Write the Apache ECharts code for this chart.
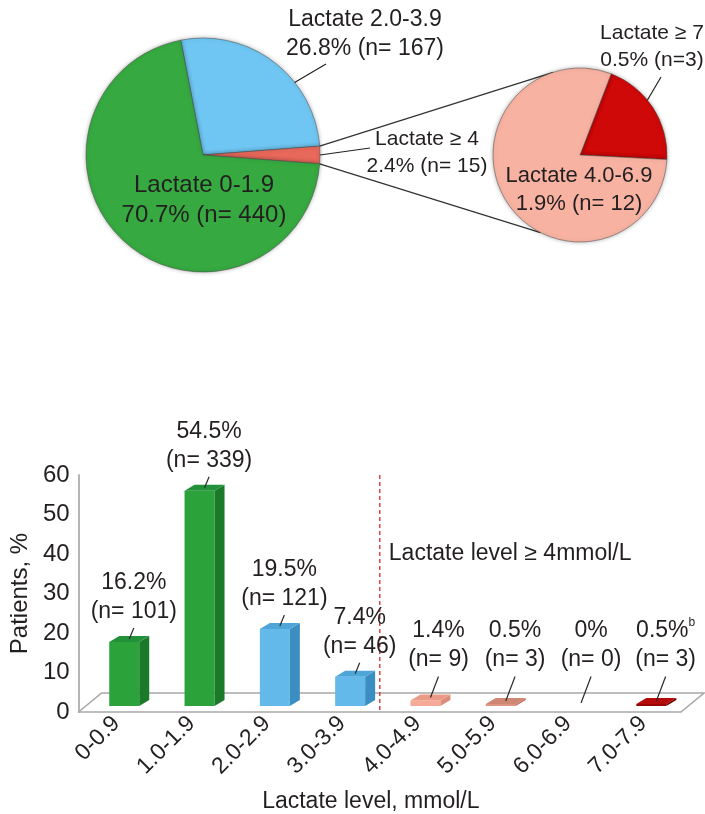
<!DOCTYPE html>
<html>
<head>
<meta charset="utf-8">
<script src="https://cdn.jsdelivr.net/npm/echarts@6/dist/echarts.min.js"></script>
<style>
  html, body { margin: 0; padding: 0; background: #fff; }
  #chart { width: 705px; height: 814px; }
</style>
</head>
<body>
<div id="chart"></div>
<script>
// main pie: lactate groups
const pieNames = ['Lactate 2.0-3.9', 'Lactate ≥ 4', 'Lactate 0-1.9'];
const pieCounts = [167, 15, 440];
const piePct = ['26.8%', '2.4%', '70.7%'];
const pieColors = ['#6fc6f2', '#e8685b', '#36a940'];

// secondary pie: split of lactate >= 4
const subNames = ['Lactate ≥ 7', 'Lactate 4.0-6.9'];
const subCounts = [3, 12];
const subPct = ['0.5%', '1.9%'];
const subGap = ['', ' '];
const subColors = ['#cf0808', '#f8b2a2'];

// bar chart
const categories = ['0-0.9', '1.0-1.9', '2.0-2.9', '3.0-3.9', '4.0-4.9', '5.0-5.9', '6.0-6.9', '7.0-7.9'];
const barPct = [16.2, 54.5, 19.5, 7.4, 1.4, 0.5, 0, 0.5];
const barN = [101, 339, 121, 46, 9, 3, 0, 3];
const barNotes = ['', '', '', '', '', '', '', 'b'];
const yMin = 0, yMax = 60, yStep = 10;
const thresholdIdx = 4;
const thresholdText = 'Lactate level ≥ 4mmol/L';

const FONT = 'Liberation Sans, Arial, sans-serif';
const TXT = '#231f20';

// bar face colours [front, side, top]
const faceColors = [
  ['#2ba23a', '#1b7a2a', '#23913a'],
  ['#2ba23a', '#1b7a2a', '#23913a'],
  ['#63b9e9', '#3c8ec2', '#4ea6d8'],
  ['#63b9e9', '#3c8ec2', '#4ea6d8'],
  ['#f4aa96', '#dd8d7a', '#ea9a86'],
  ['#dc9480', '#c27662', '#cf8672'],
  ['#cccccc', '#aaaaaa', '#bbbbbb'],
  ['#9a0404', '#6e0000', '#b50a0a']
];

// geometry of the pies
const PIE1_C = [203, 155], PIE1_R = 117;
const PIE2_C = [580, 155], PIE2_R = 87;
const PIE2_LINK_ANG = [108, -117];

// label placement, offsets from pie centre
const pie1Lab = [
  { label: [162, -121], size: 23, line: [[50, -48], [123, -91]] },
  { label: [224, -2], size: 21, line: [[117, 0], [167, -7]] },
  { label: [1, 45], size: 24 }
];
const pie2Lab = [
  { label: [72, -108], size: 21, line: [[48, -22], [81, -78]] },
  { label: [-1, 35], size: 22 }
];

function placer(center, table) {
  return function (p) {
    const t = table[p.dataIndex];
    const out = {
      x: center[0] + t.label[0], y: center[1] + t.label[1],
      align: 'center', verticalAlign: 'middle'
    };
    if (t.line) {
      const a = [center[0] + t.line[0][0], center[1] + t.line[0][1]];
      const b = [center[0] + t.line[1][0], center[1] + t.line[1][1]];
      out.labelLinePoints = [a, b, b];
    }
    return out;
  };
}

const pieLabelStyle = { show: true, color: TXT, fontFamily: FONT, fontSize: 22, lineHeight: 28 };
const pieLineStyle = { show: true, length: 10, length2: 10, lineStyle: { color: '#222', width: 1.2 } };
const pieItem = { borderColor: 'rgba(70,70,70,0.5)', borderWidth: 1, shadowBlur: 4, shadowColor: 'rgba(0,0,0,0.3)' };

const pie1Data = pieNames.map((n, i) => ({
  name: n, value: pieCounts[i],
  itemStyle: { color: pieColors[i] },
  label: { position: i === 2 ? 'inside' : 'outside', fontSize: pie1Lab[i].size, lineHeight: pie1Lab[i].size + 6 },
  labelLine: { show: i !== 2 }
}));
const pie2Data = subNames.map((n, i) => ({
  name: n, value: subCounts[i],
  itemStyle: { color: subColors[i] },
  label: { position: i === 1 ? 'inside' : 'outside', fontSize: pie2Lab[i].size, lineHeight: pie2Lab[i].size + 6 },
  labelLine: { show: i !== 1 }
}));

// connector lines from the >=4 slice to the secondary pie
const total1 = pieCounts.reduce((a, b) => a + b, 0);
const START1 = 101;
const redFrom = START1 - 360 * pieCounts[0] / total1;
const redTo = redFrom - 360 * pieCounts[1] / total1;
function onCircle(c, r, deg) {
  const t = deg * Math.PI / 180;
  return [c[0] + r * Math.cos(t), c[1] - r * Math.sin(t)];
}
const p1a = onCircle(PIE1_C, PIE1_R, redFrom);
const p1b = onCircle(PIE1_C, PIE1_R, redTo);
const p2a = onCircle(PIE2_C, PIE2_R, PIE2_LINK_ANG[0]);
const p2b = onCircle(PIE2_C, PIE2_R, PIE2_LINK_ANG[1]);

// 3d bar constants
const BAR_X = -7, BAR_W = 30, DX = 10, DY = 6, LIFT = 6;
const FLOOR_X = 23, FLOOR_Y = 19;

function renderBar(params, api) {
  const i = api.value(0);
  const v = api.value(1);
  const base = api.coord([i, 0]);
  const top = api.coord([i, v]);
  const x = base[0] + BAR_X;
  const yb = base[1] - LIFT;
  const yt = top[1] - LIFT;
  const col = faceColors[i];
  const children = [];
  if (v > 0) {
    children.push({ type: 'rect', shape: { x: x, y: yt, width: BAR_W, height: yb - yt }, style: { fill: col[0] } });
    children.push({ type: 'polygon', shape: { points: [[x + BAR_W, yb], [x + BAR_W + DX, yb - DY], [x + BAR_W + DX, yt - DY], [x + BAR_W, yt]] }, style: { fill: col[1] } });
    children.push({ type: 'polygon', shape: { points: [[x, yt], [x + BAR_W, yt], [x + BAR_W + DX, yt - DY], [x + DX, yt - DY]] }, style: { fill: col[2] } });
  }
  const tcx = x + BAR_W / 2 + DX / 2;
  const tcy = yt - DY / 2;
  const labBottom = Math.min(tcy - 13, api.coord([i, 9.5])[1]);
  const lx = tcx + 0.35 * (tcy - labBottom);
  children.push({ type: 'line', shape: { x1: tcx, y1: tcy, x2: lx, y2: labBottom + 2 }, style: { stroke: '#2a2a2a', lineWidth: 1.2 } });
  const pct = barPct[i] + '%';
  const note = barNotes[i] ? '{sup|' + barNotes[i] + '}' : '';
  children.push({
    type: 'text', x: lx, y: labBottom,
    style: {
      text: pct + note + '\n(n= ' + barN[i] + ')',
      align: 'center', verticalAlign: 'bottom',
      fontSize: 23, lineHeight: 29, fontFamily: FONT, fill: TXT,
      rich: { sup: { fontSize: 12, verticalAlign: 'top', lineHeight: 29, fill: TXT, fontFamily: FONT } }
    }
  });
  return { type: 'group', children: children };
}

function renderFloor(params, api) {
  const cs = params.coordSys;
  const x = cs.x, y = cs.y, w = cs.width, h = cs.height;
  const bw = api.size([1, 0])[0];
  const lineX = api.coord([thresholdIdx, 0])[0] - bw / 2;
  return {
    type: 'group',
    children: [
      { type: 'polyline', shape: { points: [[x, y + h], [x + FLOOR_X, y + h - FLOOR_Y], [x + w + FLOOR_X, y + h - FLOOR_Y], [x + w, y + h]] },
        style: { stroke: '#a8a8a8', lineWidth: 1.6, fill: null } },
      { type: 'line', shape: { x1: lineX, y1: y, x2: lineX, y2: y + h }, style: { stroke: '#d22a2a', lineWidth: 1.3, lineDash: [4, 3] }, z2: 50 },
      { type: 'text', x: lineX + 9, y: api.coord([0, 40])[1],
        style: { text: thresholdText, fontSize: 23, fontFamily: FONT, fill: TXT, align: 'left', verticalAlign: 'middle' } }
    ]
  };
}

const chart = echarts.init(document.getElementById('chart'));
chart.setOption({
  animation: false,
  backgroundColor: '#fff',
  textStyle: { fontFamily: FONT },
  graphic: [
    { type: 'line', shape: { x1: p1a[0], y1: p1a[1], x2: p2a[0], y2: p2a[1] }, style: { stroke: '#333', lineWidth: 1.3 } },
    { type: 'line', shape: { x1: p1b[0], y1: p1b[1], x2: p2b[0], y2: p2b[1] }, style: { stroke: '#333', lineWidth: 1.3 } }
  ],
  grid: { left: 77, right: 24, top: 475, bottom: 102 },
  xAxis: {
    type: 'category', data: categories,
    name: 'Lactate level, mmol/L', nameLocation: 'middle', nameGap: 78,
    nameTextStyle: { fontSize: 23, color: TXT, fontFamily: FONT, padding: [0, 18, 0, 0] },
    axisLine: { lineStyle: { color: '#a8a8a8', width: 1.6 } },
    axisTick: { inside: true, length: 7, lineStyle: { color: '#a8a8a8', width: 1.2 } },
    axisLabel: { rotate: 45, fontSize: 23, color: TXT, fontFamily: FONT, margin: 8 }
  },
  yAxis: {
    type: 'value', min: yMin, max: yMax, interval: yStep,
    name: 'Patients, %', nameLocation: 'middle', nameGap: 46, nameRotate: 90,
    nameTextStyle: { fontSize: 24, color: TXT, fontFamily: FONT },
    axisLine: { show: true, lineStyle: { color: '#b5b5b5', width: 2 } },
    axisTick: { show: false },
    splitLine: { show: false },
    axisLabel: { fontSize: 24, color: TXT, fontFamily: FONT, margin: 9 }
  },
  series: [
    {
      type: 'pie', center: PIE1_C, radius: PIE1_R, startAngle: START1, clockwise: true,
      avoidLabelOverlap: false, silent: true,
      itemStyle: pieItem,
      label: Object.assign({}, pieLabelStyle, {
        formatter: p => pieNames[p.dataIndex] + '\n' + piePct[p.dataIndex] + ' (n= ' + pieCounts[p.dataIndex] + ')'
      }),
      labelLine: pieLineStyle,
      labelLayout: placer(PIE1_C, pie1Lab),
      data: pie1Data
    },
    {
      type: 'pie', center: PIE2_C, radius: PIE2_R, startAngle: 69, clockwise: true,
      avoidLabelOverlap: false, silent: true,
      itemStyle: pieItem,
      label: Object.assign({}, pieLabelStyle, {
        formatter: p => subNames[p.dataIndex] + '\n' + subPct[p.dataIndex] + ' (n=' + subGap[p.dataIndex] + subCounts[p.dataIndex] + ')'
      }),
      labelLine: pieLineStyle,
      labelLayout: placer(PIE2_C, pie2Lab),
      data: pie2Data
    },
    {
      type: 'custom', renderItem: renderFloor, clip: false, silent: true, z: 1,
      data: [[0, 0]]
    },
    {
      type: 'custom', renderItem: renderBar, clip: false, silent: true, z: 5,
      encode: { x: 0, y: 1 },
      data: categories.map((c, i) => [i, barPct[i]])
    }
  ]
});
</script>
</body>
</html>
